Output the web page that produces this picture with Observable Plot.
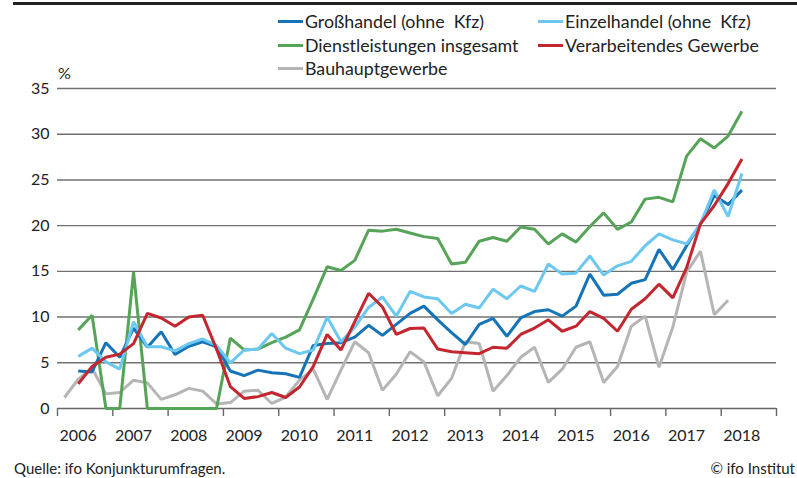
<!DOCTYPE html>
<html><head><meta charset="utf-8">
<script src="https://cdn.jsdelivr.net/npm/d3@7"></script>
<script src="https://cdn.jsdelivr.net/npm/@observablehq/plot@0.6"></script>
<style>
body{margin:0;background:#fff;font-family:Lato,"Noto Sans",sans-serif;color:#222;}
#wrap{position:relative;width:797px;height:478px;overflow:hidden;}
.abs{position:absolute;white-space:nowrap;}
.item{position:absolute;display:flex;align-items:center;font-size:17.8px;line-height:20px;}
.sw{width:25px;height:3px;margin-right:2px;}
</style></head>
<body><div id="wrap"></div>
<script>
// Quarterly survey values, 2006 Q1 ... 2018 Q2 (null = no value)
const years = [2006,2007,2008,2009,2010,2011,2012,2013,2014,2015,2016,2017,2018];
const quarters = ["Q1","Q2","Q3","Q4"];
const yTicks = [0,5,10,15,20,25,30,35];

const grosshandel = [null,4.1,4.0,7.2,5.6,8.8,6.7,8.4,5.9,6.8,7.3,6.75,4.1,3.6,4.2,3.9,3.8,3.4,6.9,7.1,7.2,7.8,9.1,8.0,9.2,10.4,11.2,9.7,8.3,7.0,9.2,9.85,7.9,9.9,10.6,10.8,10.1,11.2,14.7,12.4,12.5,13.7,14.1,17.4,15.2,17.8,20.2,23.3,22.3,23.9];
const einzelhandel = [null,5.7,6.6,5.1,4.3,9.5,6.75,6.75,6.3,7.1,7.6,6.9,5.0,6.4,6.5,8.2,6.6,6.0,6.4,10.0,7.3,8.9,11.05,12.2,10.1,12.8,12.2,12.0,10.4,11.4,11.0,13.05,12.0,13.4,12.8,15.8,14.7,14.8,16.7,14.6,15.6,16.1,17.8,19.1,18.45,18.0,20.2,23.9,21.0,25.7];
const dienstleistungen = [null,8.6,10.2,0,0,14.9,0,0,0,0,0,0,7.7,6.4,6.5,7.2,7.8,8.6,12.0,15.5,15.1,16.2,19.5,19.4,19.6,19.2,18.8,18.6,15.8,16.0,18.3,18.7,18.3,19.85,19.6,18.0,19.1,18.2,19.9,21.4,19.6,20.4,22.9,23.1,22.6,27.6,29.5,28.5,29.8,32.5];
const verarbeitendes = [null,2.7,4.6,5.6,5.95,7.1,10.4,9.9,9.0,10.0,10.2,6.5,2.4,1.1,1.3,1.75,1.2,2.35,4.6,8.1,6.4,9.5,12.6,11.1,8.1,8.75,8.8,6.5,6.2,6.1,6.0,6.7,6.6,8.1,8.8,9.7,8.45,9.0,10.6,9.85,8.45,10.85,12.0,13.6,12.1,15.4,20.2,22.2,24.6,27.3];
const bauhaupt = [1.2,3.2,4.4,1.6,1.75,3.1,2.8,1.0,1.5,2.2,1.9,0.5,0.65,1.9,2.0,0.55,1.25,3.1,4.3,1.0,4.2,7.3,6.1,2.0,3.75,6.2,5.1,1.4,3.3,7.3,7.1,1.9,3.6,5.6,6.7,2.85,4.3,6.7,7.3,2.85,4.6,9.0,10.1,4.5,8.9,14.9,17.2,10.25,11.85,null];

const seriesNames = ["Großhandel (ohne  Kfz)","Einzelhandel (ohne  Kfz)","Dienstleistungen insgesamt","Verarbeitendes Gewerbe","Bauhauptgewerbe"];
const seriesColors = ["#1574b8","#6cc8f0","#56a457","#c3262e","#b5b5b5"];
const seriesValues = [grosshandel, einzelhandel, dienstleistungen, verarbeitendes, bauhaupt];

// time axis: quarter midpoints as decimal years
const periods = [];
for (const y of years) for (let q = 0; q < 4; q++) if (periods.length < 50) periods.push({year: y, q});
const tOf = p => p.year + (p.q + 0.5) / 4;

function rows(vals){
  return periods.map((p,i)=>({t: tOf(p), v: vals[i]})).filter(d => d.v != null);
}

const boundaryTicks = years.concat([2019]);
const labelTicks = years.map(y => y + 0.5);

const lineOrder = [4,2,0,1,3];
const chart = Plot.plot({
  width: 797, height: 478,
  marginLeft: 57, marginRight: 21, marginTop: 88, marginBottom: 70,
  style: {fontFamily: "Lato, 'Noto Sans', sans-serif", fontSize: "16px", color: "#222", background: "transparent"},
  x: {domain: [2006, 2019]},
  y: {domain: [0, 35]},
  marks: [
    Plot.ruleY(yTicks.filter(d => d > 0), {stroke: "#707070", strokeWidth: 1.4}),
    Plot.axisY(yTicks, {tickSize: 0, tickPadding: 8, fontSize: 16, label: null}),
    Plot.axisX(boundaryTicks, {tickSize: 8, tickFormat: () => "", stroke: "#666", strokeWidth: 1.4, label: null}),
    Plot.axisX(labelTicks, {tickSize: 0, tickPadding: 21, dx: -7, fontSize: 16, tickFormat: d => String(Math.floor(d)), label: null}),
    Plot.ruleY([0], {stroke: "#666", strokeWidth: 1.6}),
    ...lineOrder.map(k => Plot.line(rows(seriesValues[k]), {x: "t", y: "v", stroke: seriesColors[k], strokeWidth: 3, strokeLinejoin: "miter", strokeLinecap: "butt"}))
  ]
});

const wrap = document.getElementById("wrap");
wrap.appendChild(chart);

// top rule
const rule = document.createElement("div");
rule.className = "abs";
Object.assign(rule.style, {left: "13px", top: "2px", width: "784px", height: "3px", background: "#222"});
wrap.appendChild(rule);

// legend
const legendPos = [[278,11],[538,11],[278,35],[538,35],[278,58]];
seriesNames.forEach((name, i) => {
  const it = document.createElement("div");
  it.className = "item";
  it.style.left = legendPos[i][0] + "px";
  it.style.top = legendPos[i][1] + "px";
  const sw = document.createElement("div");
  sw.className = "sw";
  sw.style.background = seriesColors[i];
  const tx = document.createElement("span");
  tx.style.whiteSpace = "pre";
  tx.textContent = name;
  it.appendChild(sw); it.appendChild(tx);
  wrap.appendChild(it);
});

// unit label
const unit = document.createElement("div");
unit.className = "abs";
Object.assign(unit.style, {left: "58px", top: "63px", fontSize: "16px"});
unit.textContent = "%";
wrap.appendChild(unit);

// captions
const src = document.createElement("div");
src.className = "abs";
Object.assign(src.style, {left: "14px", top: "459px", fontSize: "15px"});
src.textContent = "Quelle: ifo Konjunkturumfragen.";
wrap.appendChild(src);
const cr = document.createElement("div");
cr.className = "abs";
Object.assign(cr.style, {right: "2px", top: "459px", fontSize: "15px"});
cr.textContent = "© ifo Institut";
wrap.appendChild(cr);
</script>
</body></html>
